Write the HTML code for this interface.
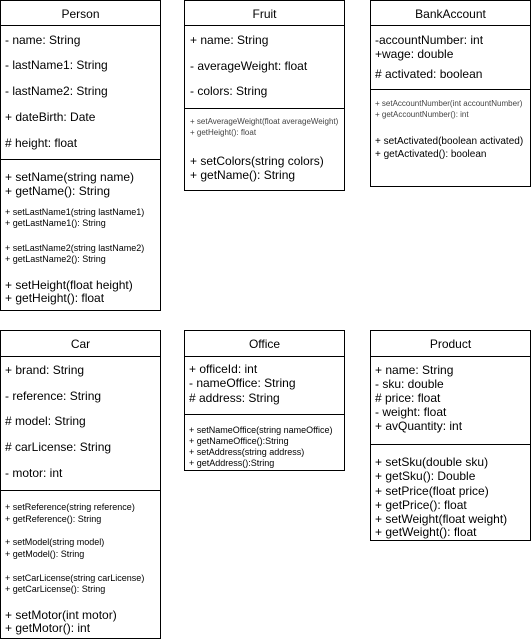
<!DOCTYPE html><html><head><style>
body{margin:0;width:531px;height:642px;background:#fff;position:relative;font-family:"Liberation Sans",Arial,sans-serif;color:#000;overflow:hidden}
.b{position:absolute;border:1px solid #000;box-sizing:border-box}
.h{position:absolute;height:1px;background:#000}
.t{position:absolute;font-size:12px;line-height:14px;white-space:nowrap}
.s{font-size:9px}
.g{font-size:8px;color:#444}
.c{text-align:center;font-size:12px}
</style></head><body>
<!-- Person -->
<div class="b" style="left:0;top:0;width:161px;height:311px"></div>
<div class="h" style="left:0;top:25px;width:161px"></div>
<div class="h" style="left:0;top:159px;width:161px"></div>
<div class="t c" style="left:0;top:7px;width:161px">Person</div>
<div class="t" style="left:5px;top:33px">- name: String</div>
<div class="t" style="left:5px;top:58px">- lastName1: String</div>
<div class="t" style="left:5px;top:84px">- lastName2: String</div>
<div class="t" style="left:5px;top:110px">+ dateBirth: Date</div>
<div class="t" style="left:5px;top:136px"># height: float</div>
<div class="t" style="left:5px;top:170px">+ setName(string name)</div>
<div class="t" style="left:5px;top:184px">+ getName(): String</div>
<div class="t s" style="left:5px;top:205px">+ setLastName1(string lastName1)</div>
<div class="t s" style="left:5px;top:216px">+ getLastName1(): String</div>
<div class="t s" style="left:5px;top:241px">+ setLastName2(string lastName2)</div>
<div class="t s" style="left:5px;top:252px">+ getLastName2(): String</div>
<div class="t" style="left:5px;top:278px">+ setHeight(float height)</div>
<div class="t" style="left:5px;top:291px">+ getHeight(): float</div>
<!-- Fruit -->
<div class="b" style="left:184px;top:0;width:161px;height:191px"></div>
<div class="h" style="left:184px;top:25px;width:161px"></div>
<div class="h" style="left:184px;top:108px;width:161px"></div>
<div class="t c" style="left:184px;top:7px;width:161px">Fruit</div>
<div class="t" style="left:190px;top:33px">+ name: String</div>
<div class="t" style="left:190px;top:59px">- averageWeight: float</div>
<div class="t" style="left:190px;top:84px">- colors: String</div>
<div class="t g" style="left:190px;top:115px">+ setAverageWeight(float averageWeight)</div>
<div class="t g" style="left:190px;top:126px">+ getHeight(): float</div>
<div class="t" style="left:190px;top:154px">+ setColors(string colors)</div>
<div class="t" style="left:190px;top:168px">+ getName(): String</div>
<!-- BankAccount -->
<div class="b" style="left:370px;top:0;width:161px;height:187px"></div>
<div class="h" style="left:370px;top:25px;width:161px"></div>
<div class="h" style="left:370px;top:89px;width:161px"></div>
<div class="t c" style="left:370px;top:7px;width:161px">BankAccount</div>
<div class="t" style="left:375px;top:33px">-accountNumber: int</div>
<div class="t" style="left:375px;top:47px">+wage: double</div>
<div class="t" style="left:375px;top:67px"># activated: boolean</div>
<div class="t g" style="left:375px;top:97px">+ setAccountNumber(int accountNumber)</div>
<div class="t g" style="left:375px;top:108px">+ getAccountNumber(): int</div>
<div class="t" style="left:375px;top:135px;font-size:10px">+ setActivated(boolean activated)</div>
<div class="t" style="left:375px;top:148px;font-size:10px">+ getActivated(): boolean</div>
<!-- Car -->
<div class="b" style="left:0;top:330px;width:161px;height:309px"></div>
<div class="h" style="left:0;top:356px;width:161px"></div>
<div class="h" style="left:0;top:490px;width:161px"></div>
<div class="t c" style="left:0;top:337px;width:161px">Car</div>
<div class="t" style="left:5px;top:363px">+ brand: String</div>
<div class="t" style="left:5px;top:389px">- reference: String</div>
<div class="t" style="left:5px;top:414px"># model: String</div>
<div class="t" style="left:5px;top:440px"># carLicense: String</div>
<div class="t" style="left:5px;top:466px">- motor: int</div>
<div class="t s" style="left:5px;top:500px">+ setReference(string reference)</div>
<div class="t s" style="left:5px;top:512px">+ getReference(): String</div>
<div class="t s" style="left:5px;top:535px">+ setModel(string model)</div>
<div class="t s" style="left:5px;top:547px">+ getModel(): String</div>
<div class="t s" style="left:5px;top:571px">+ setCarLicense(string carLicense)</div>
<div class="t s" style="left:5px;top:582px">+ getCarLicense(): String</div>
<div class="t" style="left:5px;top:608px">+ setMotor(int motor)</div>
<div class="t" style="left:5px;top:621px">+ getMotor(): int</div>
<!-- Office -->
<div class="b" style="left:184px;top:330px;width:161px;height:141px"></div>
<div class="h" style="left:184px;top:356px;width:161px"></div>
<div class="h" style="left:184px;top:414px;width:161px"></div>
<div class="t c" style="left:184px;top:337px;width:161px">Office</div>
<div class="t" style="left:189px;top:362px">+ officeId: int</div>
<div class="t" style="left:189px;top:376px">- nameOffice: String</div>
<div class="t" style="left:189px;top:391px"># address: String</div>
<div class="t s" style="left:189px;top:423px">+ setNameOffice(string nameOffice)</div>
<div class="t s" style="left:189px;top:434px">+ getNameOffice():String</div>
<div class="t s" style="left:189px;top:445px">+ setAddress(string address)</div>
<div class="t s" style="left:189px;top:456px">+ getAddress():String</div>
<!-- Product -->
<div class="b" style="left:370px;top:330px;width:161px;height:211px"></div>
<div class="h" style="left:370px;top:356px;width:161px"></div>
<div class="h" style="left:370px;top:444px;width:161px"></div>
<div class="t c" style="left:370px;top:337px;width:161px">Product</div>
<div class="t" style="left:375px;top:363px">+ name: String</div>
<div class="t" style="left:375px;top:377px">- sku: double</div>
<div class="t" style="left:375px;top:391px"># price: float</div>
<div class="t" style="left:375px;top:405px">- weight: float</div>
<div class="t" style="left:375px;top:419px">+ avQuantity: int</div>
<div class="t" style="left:375px;top:455px">+ setSku(double sku)</div>
<div class="t" style="left:375px;top:469px">+ getSku(): Double</div>
<div class="t" style="left:375px;top:484px">+ setPrice(float price)</div>
<div class="t" style="left:375px;top:498px">+ getPrice(): float</div>
<div class="t" style="left:375px;top:512px">+ setWeight(float weight)</div>
<div class="t" style="left:375px;top:525px">+ getWeight(): float</div>
</body></html>
